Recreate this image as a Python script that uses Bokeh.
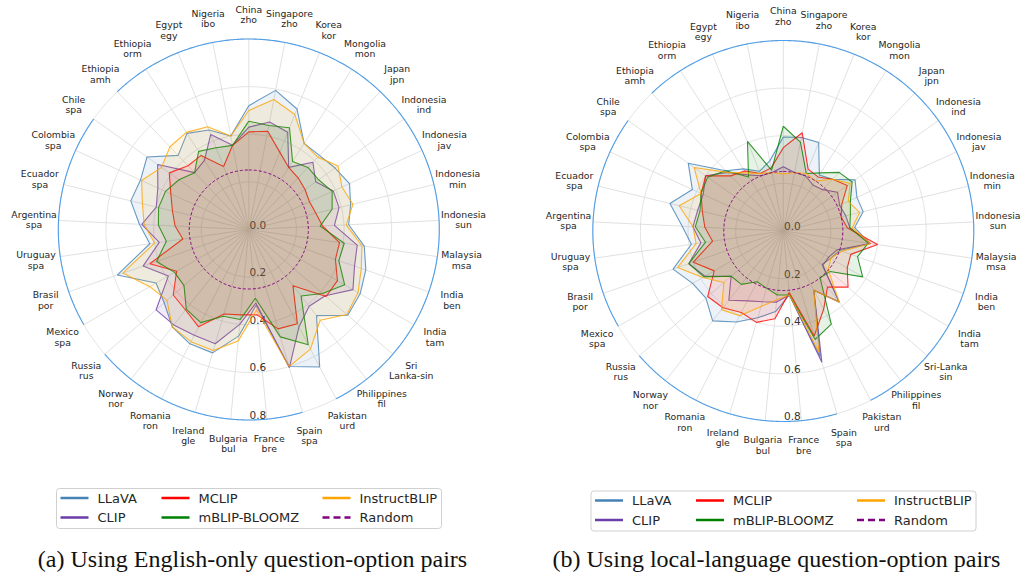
import numpy as np
from bokeh.plotting import figure
from bokeh.models import Range1d
from bokeh.embed import file_html
from bokeh.resources import INLINE
from bokeh.core.properties import value

# ---------------- data ----------------
countries = ["China", "Singapore", "Korea", "Mongolia", "Japan", "Indonesia", "Indonesia",
             "Indonesia", "Indonesia", "Malaysia", "India", "India", "Sri", "Philippines",
             "Pakistan", "Spain", "France", "Bulgaria", "Ireland", "Romania", "Norway",
             "Russia", "Mexico", "Brasil", "Uruguay", "Argentina", "Ecuador", "Colombia",
             "Chile", "Ethiopia", "Ethiopia", "Egypt", "Nigeria"]
languages = ["zho", "zho", "kor", "mon", "jpn", "ind", "jav", "min", "sun", "msa", "ben", "tam",
             "Lanka-sin", "fil", "urd", "spa", "bre", "bul", "gle", "ron", "nor", "rus", "spa",
             "por", "spa", "spa", "spa", "spa", "spa", "amh", "orm", "egy", "ibo"]
countries_b = countries[:12] + ["Sri-Lanka"] + countries[13:]
languages_b = languages[:12] + ["sin"] + languages[13:]

models = ["LLaVA", "CLIP", "MCLIP", "mBLIP-BLOOMZ", "InstructBLIP"]
model_colors = ["#4682B4", "#6A3DA8", "#FF0000", "#008000", "#FFA500"]
random_baseline = 0.25
random_color = "#800080"
radial_ticks = [0.0, 0.2, 0.4, 0.6, 0.8]

eng_llava = [0.52, 0.595, 0.545, 0.43, 0.43, 0.445, 0.465, 0.44, 0.42, 0.49, 0.52, 0.54, 0.55, 0.46, 0.65, 0.60, 0.32,
             0.45, 0.54, 0.54, 0.52, 0.47, 0.45, 0.585, 0.42, 0.46, 0.51, 0.50, 0.525, 0.43, 0.48, 0.45, 0.40]
eng_clip = [0.43, 0.46, 0.44, 0.31, 0.39, 0.345, 0.39, 0.39, 0.36, 0.46, 0.47, 0.505, 0.425, 0.41, 0.46, 0.605, 0.31,
            0.40, 0.50, 0.50, 0.51, 0.515, 0.39, 0.47, 0.38, 0.45, 0.40, 0.42, 0.47, 0.33, 0.345, 0.43, 0.36]
eng_mclip = [0.41, 0.42, 0.35, 0.31, 0.30, 0.29, 0.28, 0.29, 0.31, 0.385, 0.385, 0.43, 0.43, 0.30, 0.445, 0.435, 0.36,
             0.36, 0.37, 0.46, 0.43, 0.42, 0.35, 0.44, 0.28, 0.31, 0.33, 0.36, 0.41, 0.37, 0.37, 0.285, 0.36]
eng_mblip = [0.455, 0.445, 0.46, 0.34, 0.36, 0.36, 0.385, 0.36, 0.30, 0.405, 0.40, 0.465, 0.41, 0.355, 0.545, 0.47, 0.29,
             0.38, 0.38, 0.44, 0.425, 0.36, 0.36, 0.41, 0.35, 0.38, 0.39, 0.385, 0.36, 0.33, 0.39, 0.37, 0.36]
eng_instructblip = [0.50, 0.556, 0.52, 0.43, 0.42, 0.46, 0.43, 0.45, 0.41, 0.48, 0.50, 0.53, 0.545, 0.485, 0.565, 0.60, 0.34,
                    0.47, 0.53, 0.53, 0.52, 0.455, 0.48, 0.56, 0.40, 0.44, 0.46, 0.495, 0.45, 0.48, 0.485, 0.465, 0.40]

loc_llava = [0.395, 0.40, 0.40, 0.28, 0.30, 0.37, 0.34, 0.345, 0.30, 0.37, 0.25, 0.23, 0.215, 0.38, 0.28, 0.55, 0.27,
             0.34, 0.38, 0.43, 0.48, 0.43, 0.44, 0.49, 0.39, 0.425, 0.49, 0.42, 0.49, 0.35, 0.31, 0.27, 0.30]
loc_clip = [0.27, 0.25, 0.25, 0.23, 0.24, 0.28, 0.26, 0.27, 0.28, 0.37, 0.24, 0.22, 0.22, 0.38, 0.28, 0.575, 0.27,
            0.30, 0.31, 0.33, 0.37, 0.29, 0.38, 0.42, 0.35, 0.38, 0.37, 0.37, 0.40, 0.34, 0.28, 0.25, 0.25]
loc_mclip = [0.35, 0.42, 0.28, 0.27, 0.30, 0.33, 0.27, 0.25, 0.27, 0.40, 0.30, 0.31, 0.36, 0.30, 0.37, 0.46, 0.26,
             0.37, 0.40, 0.385, 0.41, 0.42, 0.335, 0.40, 0.30, 0.33, 0.35, 0.38, 0.40, 0.32, 0.30, 0.26, 0.27]
loc_mblip = [0.44, 0.38, 0.26, 0.29, 0.34, 0.355, 0.31, 0.29, 0.28, 0.36, 0.33, 0.385, 0.26, 0.25, 0.44, 0.475, 0.27,
             0.27, 0.25, 0.24, 0.285, 0.29, 0.385, 0.42, 0.33, 0.37, 0.36, 0.38, 0.39, 0.35, 0.27, 0.405, 0.26]
loc_instructblip = [0.24, 0.25, 0.26, 0.25, 0.30, 0.345, 0.30, 0.33, 0.29, 0.37, 0.26, 0.23, 0.25, 0.38, 0.28, 0.53, 0.27,
                    0.29, 0.33, 0.40, 0.42, 0.33, 0.39, 0.47, 0.37, 0.38, 0.45, 0.38, 0.46, 0.34, 0.29, 0.26, 0.25]

caption_a = "(a) Using English-only question-option pairs"
caption_b = "(b) Using local-language question-option pairs"

# ---------------- layout ----------------
W, H = 1021, 575
SCALE = 238.1          # px per unit of accuracy
RMAX = 0.8
N = len(countries)

def dx(X):  # reference screen x -> data x
    return X

def dy(Y):  # reference screen y -> data y (y up)
    return H - Y

p = figure(width=W, height=H, x_range=Range1d(0, W), y_range=Range1d(0, H),
           output_backend="svg", toolbar_location=None, min_border=0)
p.axis.visible = False
p.grid.visible = False
p.outline_line_color = None
p.background_fill_color = "white"

theta = np.pi / 2 - 2 * np.pi * np.arange(N) / N
FONT = value("DejaVu Sans")


def ring(cx, cy, r, t0=0.0, t1=None):
    if t1 is None:
        t1 = float(N)
    t = np.linspace(t0, t1, 400)
    a = np.pi / 2 - 2 * np.pi * t / N
    return cx + r * SCALE * np.cos(a), cy + r * SCALE * np.sin(a)


def radar(cx, cy, series, cnames, lnames, leg_x, leg_y, caption, cap_x):
    # grid
    for i in range(N):
        p.line([cx, cx + RMAX * SCALE * np.cos(theta[i])], [cy, cy + RMAX * SCALE * np.sin(theta[i])],
               line_color="#d9d9d9", line_width=0.8)
    for r in [0.2, 0.4, 0.6, 0.8]:
        xs, ys = ring(cx, cy, r)
        p.line(xs, ys, line_color="#dcdcdc", line_width=0.8)
    # blue outer spine with gaps
    for t0, t1 in [(-4.0, 14.0), (15.0, 21.0), (22.0, 28.0)]:
        xs, ys = ring(cx, cy, RMAX, t0, t1)
        p.line(xs, ys, line_color="#4f9ee8", line_width=1.1)
    # radial tick labels
    p.text(x=[cx + 9] * len(radial_ticks), y=[cy - r * SCALE + 5 for r in radial_ticks],
           text=["%.1f" % r for r in radial_ticks], text_align="center", text_baseline="middle",
           text_font=FONT, text_font_size="10.5px", text_color="#333333")
    # category labels
    lr = 215.0
    lx = cx + lr * np.cos(theta)
    ly = cy + lr * np.sin(theta)
    p.text(x=lx, y=ly + 5.2, text=cnames, text_align="center", text_baseline="middle",
           text_font=FONT, text_font_size="9.3px", text_color="#262626")
    p.text(x=lx, y=ly - 5.2, text=lnames, text_align="center", text_baseline="middle",
           text_font=FONT, text_font_size="9.3px", text_color="#262626")
    # series
    for vals, col in zip(series, model_colors):
        v = np.array(vals + vals[:1])
        a = np.concatenate([theta, theta[:1]])
        xs = cx + v * SCALE * np.cos(a)
        ys = cy + v * SCALE * np.sin(a)
        p.line(xs, ys, line_color=col, line_width=1.1, line_alpha=0.8)
        p.patch(xs, ys, fill_color=col, fill_alpha=0.1, line_color=None)
    xs, ys = ring(cx, cy, random_baseline)
    p.line(xs, ys, line_color=random_color, line_width=1.0, line_dash="3 2")

    # legend
    p.quad(left=[leg_x], right=[leg_x + 385], top=[leg_y], bottom=[leg_y - 40],
           fill_color="white", line_color="#d0d0d0", line_width=1, border_radius=3)
    cols = [(leg_x + 4, leg_x + 41), (leg_x + 105, leg_x + 142), (leg_x + 266, leg_x + 303)]
    rows = [leg_y - 9.5, leg_y - 29]
    names = models + ["Random"]
    colors = model_colors + [random_color]
    for k, (nm, col) in enumerate(zip(names, colors)):
        c, r = divmod(k, 2)
        lx0, tx = cols[c]
        yy = rows[r]
        if nm == "Random":
            p.line([lx0, lx0 + 28], [yy, yy], line_color=col, line_width=2.5, line_dash="7 4")
        else:
            p.line([lx0, lx0 + 28], [yy, yy], line_color=col, line_width=2.5)
        p.text(x=[tx], y=[yy], text=[nm], text_align="left", text_baseline="middle",
               text_font=FONT, text_font_size="13px", text_color="#262626")
    # caption
    p.text(x=[cap_x], y=[dy(558)], text=[caption], text_align="center", text_baseline="middle",
           text_font=value("Liberation Serif"), text_font_size="24px", text_color="#111111")


radar(dx(248.3), dy(229.0), [eng_llava, eng_clip, eng_mclip, eng_mblip, eng_instructblip],
      countries, languages, dx(56), dy(488), caption_a, dx(252))
radar(dx(782.8), dy(230.5), [loc_llava, loc_clip, loc_mclip, loc_mblip, loc_instructblip],
      countries_b, languages_b, dx(590.5), dy(490.5), caption_b, dx(776))

open("out.html", "w").write(file_html(p, INLINE))
